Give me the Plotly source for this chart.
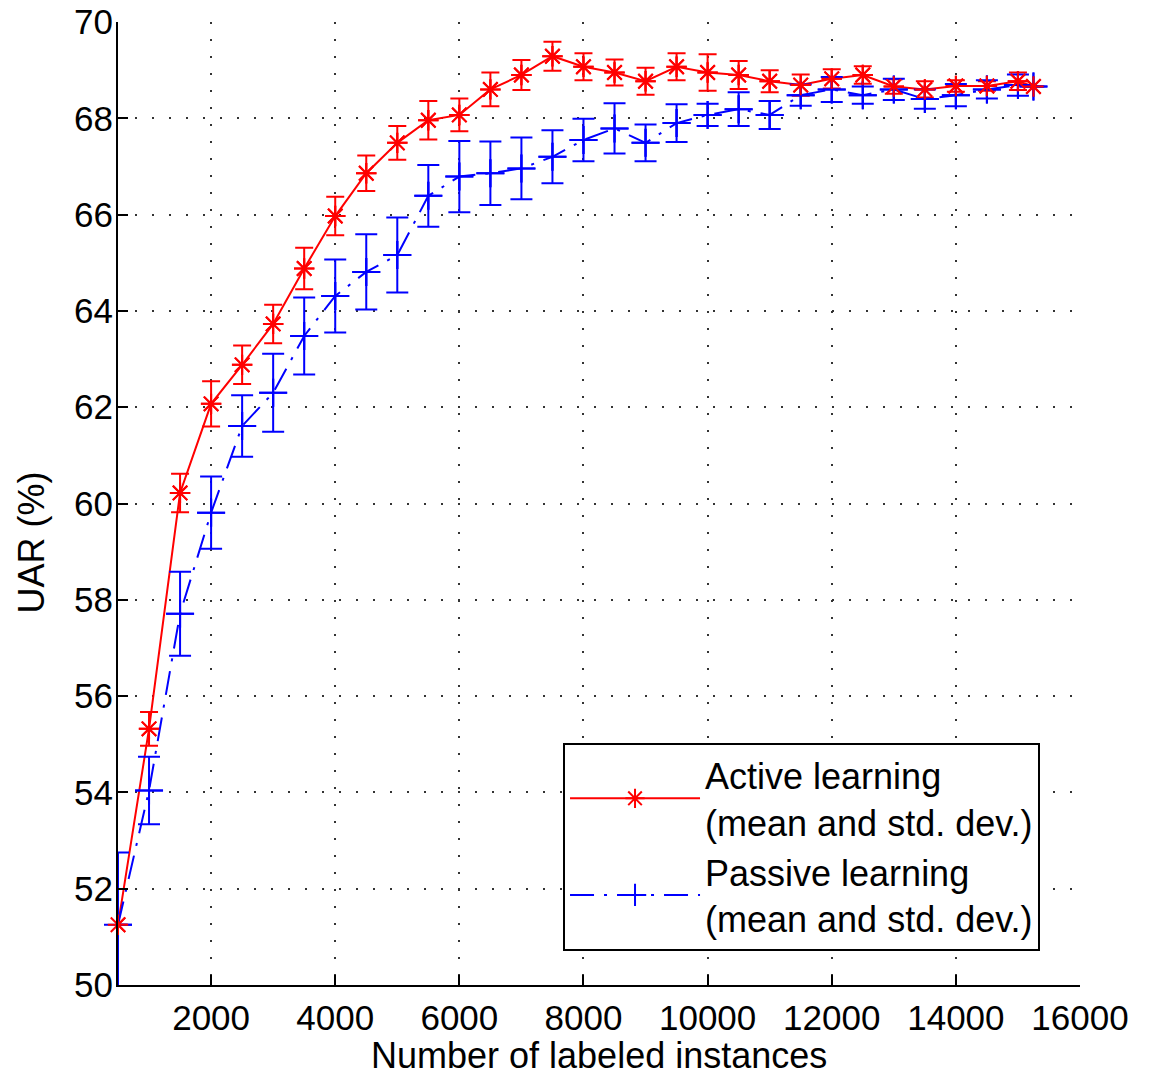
import plotly.graph_objects as go

# ---------------- data ----------------
labeled_instances = [500, 1000, 1500, 2000, 2500, 3000, 3500, 4000, 4500, 5000,
                     5500, 6000, 6500, 7000, 7500, 8000, 8500, 9000, 9500, 10000,
                     10500, 11000, 11500, 12000, 12500, 13000, 13500, 14000, 14500, 15000,
                     15250]

active_mean = [51.25, 55.32, 60.22, 62.07, 62.88, 63.73, 64.88, 65.97, 66.86, 67.49,
               67.96, 68.07, 68.60, 68.90, 69.29, 69.07, 68.95, 68.77, 69.07, 68.95,
               68.90, 68.77, 68.69, 68.82, 68.90, 68.66, 68.60, 68.67, 68.67, 68.77,
               68.66]
active_std = [None, 0.35, 0.40, 0.47, 0.40, 0.40, 0.43, 0.40, 0.37, 0.35,
              0.40, 0.34, 0.35, 0.31, 0.30, 0.28, 0.27, 0.28, 0.28, 0.38,
              0.29, 0.23, 0.22, 0.20, 0.18, 0.15, 0.17, 0.12, 0.10, 0.18,
              None]

passive_mean = [51.25, 54.04, 57.71, 59.81, 61.61, 62.30, 63.48, 64.31, 64.81, 65.16,
                66.39, 66.79, 66.86, 66.96, 67.20, 67.55, 67.79, 67.49, 67.90, 68.07,
                68.19, 68.07, 68.48, 68.60, 68.48, 68.60, 68.40, 68.48, 68.60, 68.69,
                68.66]
passive_std = [1.50, 0.70, 0.87, 0.75, 0.64, 0.81, 0.80, 0.76, 0.78, 0.78,
               0.64, 0.74, 0.66, 0.64, 0.55, 0.44, 0.52, 0.38, 0.39, 0.23,
               0.35, 0.29, 0.22, 0.26, 0.18, 0.22, 0.20, 0.23, 0.19, 0.22,
               None]

x_tick_vals = [2000, 4000, 6000, 8000, 10000, 12000, 14000, 16000]
x_tick_labels = ["2000", "4000", "6000", "8000", "10000", "12000", "14000", "16000"]
y_tick_vals = [50, 52, 54, 56, 58, 60, 62, 64, 66, 68, 70]
y_tick_labels = ["50", "52", "54", "56", "58", "60", "62", "64", "66", "68", "70"]

series_names = ["Active learning<br>(mean and std. dev.)",
                "Passive learning<br>(mean and std. dev.)"]
x_title = "Number of labeled instances"
y_title = "UAR (%)"

# ---------------- styling ----------------
FONT = "Liberation Sans, Arial, Helvetica, sans-serif"
RED = "#ff0000"
BLUE = "#0000ff"

fig = go.Figure()

fig.add_trace(go.Scatter(
    x=labeled_instances, y=active_mean, name=series_names[0],
    mode="lines+markers",
    line=dict(color=RED, width=2),
    marker=dict(symbol="asterisk-open", size=17, color=RED, line=dict(color=RED, width=2)),
    error_y=dict(type="data", array=active_std, symmetric=True,
                 color=RED, thickness=2, width=9),
    cliponaxis=True,
))
fig.add_trace(go.Scatter(
    x=labeled_instances, y=passive_mean, name=series_names[1],
    mode="lines+markers",
    line=dict(color=BLUE, width=2, dash="24px,10px,3px,10px"),
    marker=dict(symbol="cross-thin-open", size=20, color=BLUE, line=dict(color=BLUE, width=2)),
    error_y=dict(type="data", array=passive_std, symmetric=True,
                 color=BLUE, thickness=2, width=11),
    cliponaxis=True,
))
# unclipped marker overlays (so edge markers are drawn fully)
fig.add_trace(go.Scatter(
    x=labeled_instances, y=passive_mean, mode="markers", showlegend=False,
    marker=dict(symbol="cross-thin-open", size=20, color=BLUE, line=dict(color=BLUE, width=2)),
    cliponaxis=False, hoverinfo="skip",
))
fig.add_trace(go.Scatter(
    x=labeled_instances, y=active_mean, mode="markers", showlegend=False,
    marker=dict(symbol="asterisk-open", size=17, color=RED, line=dict(color=RED, width=2)),
    cliponaxis=False, hoverinfo="skip",
))

axis_common = dict(
    showline=True, linecolor="black", linewidth=2, mirror=False,
    ticks="inside", ticklen=10, tickwidth=1.5, tickcolor="black",
    showgrid=True, gridcolor="#333333", gridwidth=1.5, griddash="2px,15px",
    zeroline=False, automargin=False,
    tickfont=dict(family=FONT, size=35, color="black"),
)

fig.update_layout(
    width=1155, height=1080,
    margin=dict(l=118, r=75, t=22, b=95),
    paper_bgcolor="white", plot_bgcolor="white",
    font=dict(family=FONT, color="black"),
    xaxis=dict(range=[500, 16000], tickvals=x_tick_vals, ticktext=x_tick_labels,
               ticklabelstandoff=1, **axis_common),
    yaxis=dict(range=[50, 70], tickvals=y_tick_vals, ticktext=y_tick_labels,
               ticklabelstandoff=-4, **axis_common),
    legend=dict(x=0.4626, y=0.2513, xanchor="left", yanchor="top",
                bgcolor="white", bordercolor="black", borderwidth=2,
                font=dict(family=FONT, size=36, color="black"),
                itemwidth=130, tracegroupgap=10),
    showlegend=True,
)

fig.add_annotation(text=x_title, xref="paper", yref="paper", x=0.5, y=-0.0727,
                   xanchor="center", yanchor="middle", showarrow=False,
                   font=dict(family=FONT, size=36, color="black"))
fig.add_annotation(text=y_title, xref="paper", yref="paper", x=-0.09, y=0.46,
                   xanchor="center", yanchor="middle", showarrow=False, textangle=-90,
                   font=dict(family=FONT, size=36, color="black"))

fig.write_html("out.html")
